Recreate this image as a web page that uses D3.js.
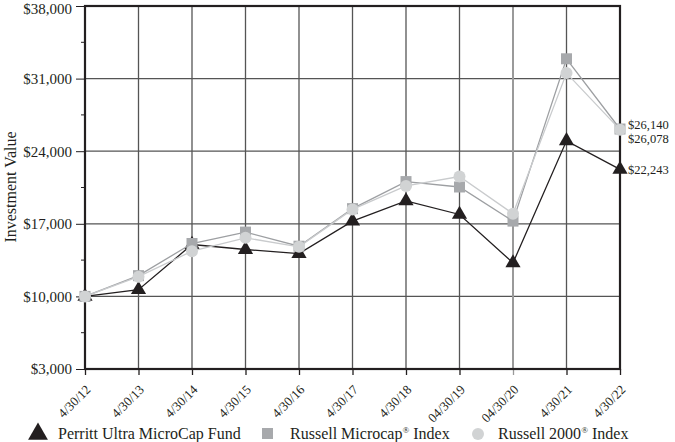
<!DOCTYPE html>
<html><head><meta charset="utf-8">
<script src="https://cdn.jsdelivr.net/npm/d3@7"></script>
<style>
body{margin:0;background:#fff;}
text{font-family:"Liberation Serif","DejaVu Serif",serif;fill:#231f20;}
</style></head>
<body><svg id="c" width="675" height="442"></svg>
<script>
const dates = ["4/30/12","4/30/13","4/30/14","4/30/15","4/30/16","4/30/17","4/30/18","04/30/19","04/30/20","4/30/21","4/30/22"];
const fundValues = [10000,10650,15000,14520,14130,17260,19200,17900,13230,25000,22243];
const microcapValues = [10000,12000,15100,16200,14840,18460,21070,20550,17260,32910,26140];
const r2000Values = [10000,11900,14360,15650,14780,18390,20650,21560,17970,31530,26078];
const yTicks = [3000,10000,17000,24000,31000,38000];
const yMinor = [6500,13500,20500,27500,34500];
const seriesNames = [["Perritt Ultra MicroCap Fund",""],["Russell Microcap","\u00AE"," Index"],["Russell 2000","\u00AE"," Index"]];
const endLabels = ["$26,140","$26,078","$22,243"];

const svg = d3.select("#c");
const L=85,R=620,T=6,B=369;
const x = d3.scalePoint().domain(dates).range([L,R]);
const y = d3.scaleLinear().domain([3000,38000]).range([B,T]);
const fmt = v => "$" + d3.format(",")(v);

// grid
svg.append("g").selectAll("line").data(yTicks.slice(1,-1)).join("line")
  .attr("x1",L).attr("x2",R).attr("y1",d=>y(d)).attr("y2",d=>y(d))
  .attr("stroke","#555").attr("stroke-width",1.3);
svg.append("g").selectAll("line").data(dates.slice(1,-1)).join("line")
  .attr("x1",d=>x(d)).attr("x2",d=>x(d)).attr("y1",T).attr("y2",B)
  .attr("stroke",d=>d==="04/30/20"?"#9a9a9a":"#555").attr("stroke-width",d=>d==="04/30/20"?2:1.3);

// y axis
const yAxis = d3.axisLeft(y).tickValues(yTicks).tickFormat(fmt).tickSize(9).tickPadding(4);
const ya = svg.append("g").attr("transform",`translate(${L},0)`).call(yAxis);
ya.attr("font-size",null).attr("font-family",null);
ya.select(".domain").remove();
ya.selectAll("line").attr("stroke","#231f20").attr("stroke-width",1);
ya.selectAll("text").style("font-size","15px").attr("fill","#231f20")
  .attr("dy",d=>d===38000?"0.5em":"0.32em");
svg.append("g").selectAll("line").data(yMinor).join("line")
  .attr("x1",L-4).attr("x2",L).attr("y1",d=>y(d)).attr("y2",d=>y(d)).attr("stroke","#231f20");

// x axis
const xAxis = d3.axisBottom(x).tickSize(6).tickFormat("");
const xa = svg.append("g").attr("transform",`translate(0,${B})`).call(xAxis);
xa.select(".domain").remove();
xa.selectAll("line").attr("stroke",d=>d==="04/30/20"?"#9a9a9a":"#231f20").attr("stroke-width",1.3);
svg.append("g").selectAll("text").data(dates).join("text")
  .attr("transform",d=>`translate(${x(d)},${B+15}) rotate(-45)`)
  .attr("text-anchor","end").attr("dy","0.7em").style("font-size","13px").text(d=>d);

// frame
svg.append("rect").attr("x",L).attr("y",T).attr("width",R-L).attr("height",B-T)
  .attr("fill","none").attr("stroke","#231f20").attr("stroke-width",2.2);

svg.append("text").attr("transform",`translate(16,187) rotate(-90)`)
  .attr("text-anchor","middle").style("font-size","16px").text("Investment Value");

const line = d3.line().x((d,i)=>x(dates[i])).y(d=>y(d));
const colors = {fund:"#231f20", micro:"#a7a9ac", r2k:"#d1d3d4"};

function series(vals, lineColor, fill, shape, sz){
  svg.append("path").datum(vals).attr("d",line).attr("fill","none")
    .attr("stroke",lineColor).attr("stroke-width",1.3);
  const g = svg.append("g");
  vals.forEach((v,i)=>{
    const cx=x(dates[i]), cy=y(v);
    if(shape==="tri") g.append("path").attr("d",d3.symbol().type(d3.symbolTriangle).size(sz)()).attr("transform",`translate(${cx},${cy})`).attr("fill",fill);
    else if(shape==="sq") g.append("rect").attr("x",cx-sz/2).attr("y",cy-sz/2).attr("width",sz).attr("height",sz).attr("fill",fill);
    else g.append("circle").attr("cx",cx).attr("cy",cy).attr("r",sz).attr("fill",fill);
  });
}
series(fundValues,"#231f20",colors.fund,"tri",100);
series(microcapValues,"#9d9fa2",colors.micro,"sq",11);
series(r2000Values,"#c9cbcd",colors.r2k,"ci",6);

// end labels
const lastX = x(dates[dates.length-1]);
const el = svg.append("g").style("font-size","12.5px");
el.append("text").attr("x",lastX+8).attr("y",y(microcapValues[10])-4).attr("dy","0.35em").text(endLabels[0]);
el.append("text").attr("x",lastX+8).attr("y",y(microcapValues[10])+10).attr("dy","0.35em").text(endLabels[1]);
el.append("text").attr("x",lastX+8).attr("y",y(fundValues[10])).attr("dy","0.35em").text(endLabels[2]);

// legend
const lg = svg.append("g");
const ly = 433;
lg.append("path").attr("d",d3.symbol().type(d3.symbolTriangle).size(170)()).attr("transform",`translate(38,${ly+1})`).attr("fill",colors.fund);
lg.append("rect").attr("x",262).attr("y",ly-5).attr("width",11).attr("height",11).attr("fill",colors.micro);
lg.append("circle").attr("cx",478).attr("cy",ly+1).attr("r",6).attr("fill",colors.r2k);
[58,290,498].forEach((lx,i)=>{
  const t = lg.append("text").attr("x",lx).attr("y",ly+5.5).style("font-size","16px");
  const parts = seriesNames[i];
  t.append("tspan").text(parts[0]);
  if(parts[1]){
    t.append("tspan").attr("dy",-6).style("font-size","9px").text(parts[1]);
    t.append("tspan").attr("dy",6).text(parts[2]);
  }
});
</script></body></html>
